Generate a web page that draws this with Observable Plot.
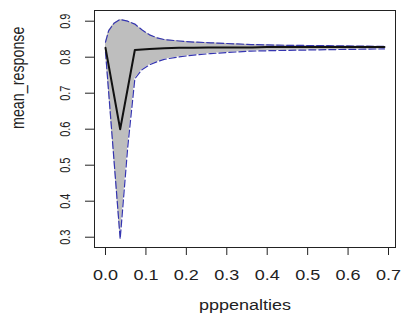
<!DOCTYPE html>
<html><head><meta charset="utf-8">
<script src="https://cdn.jsdelivr.net/npm/d3@7"></script>
<script src="https://cdn.jsdelivr.net/npm/@observablehq/plot@0.6"></script>
<style>body{margin:0;background:#fff} svg{display:block}</style>
</head><body><div id="chart"></div>
<script>
// mean response line (coarse grid)
const penalties = [0, 0.0363, 0.0726, 0.109, 0.145, 0.182, 0.218, 0.254, 0.291, 0.327, 0.363, 0.399, 0.436, 0.472, 0.508, 0.545, 0.581, 0.617, 0.654, 0.69];
const meanResponse = [0.826, 0.600, 0.820, 0.823, 0.825, 0.826, 0.826, 0.827, 0.827, 0.827, 0.827, 0.828, 0.828, 0.828, 0.828, 0.828, 0.828, 0.828, 0.828, 0.828];
// confidence band
const bandPenalties = [0, 0.008, 0.021, 0.0363, 0.055, 0.0726, 0.09, 0.109, 0.127, 0.145, 0.182, 0.218, 0.26, 0.30, 0.36, 0.45, 0.55, 0.69];
const bandLower = [0.815, 0.700, 0.514, 0.295, 0.550, 0.740, 0.765, 0.779, 0.787, 0.794, 0.801, 0.806, 0.810, 0.813, 0.817, 0.819, 0.821, 0.823];
const bandUpper = [0.842, 0.874, 0.894, 0.905, 0.900, 0.892, 0.876, 0.862, 0.854, 0.849, 0.845, 0.842, 0.840, 0.838, 0.835, 0.833, 0.832, 0.830];
const xTicks = [0, 0.1, 0.2, 0.3, 0.4, 0.5, 0.6, 0.7];
const yTicks = [0.3, 0.4, 0.5, 0.6, 0.7, 0.8, 0.9];
const xTitle = "pppenalties";
const yTitle = "mean_response";

const line = penalties.map((x, i) => ({x, y: meanResponse[i]}));
const band = bandPenalties.map((x, i) => ({x, lo: bandLower[i], hi: bandUpper[i]}));
const fmt = d3.format(".1f");

const chart = Plot.plot({
  width: 401, height: 323,
  marginLeft: 94, marginRight: 6, marginTop: 10, marginBottom: 76,
  style: {fontFamily: "'Liberation Sans', Arial, sans-serif", color: "#222", background: "#fff"},
  x: {domain: [-0.0272, 0.7173]},
  y: {domain: [0.2714, 0.9297]},
  marks: [
    Plot.areaY(band, {x: "x", y1: "lo", y2: "hi", fill: "#bebebe"}),
    Plot.lineY(band, {x: "x", y: "lo", stroke: "#3535b0", strokeWidth: 1.2, strokeDasharray: "7,3"}),
    Plot.lineY(band, {x: "x", y: "hi", stroke: "#3535b0", strokeWidth: 1.2, strokeDasharray: "7,3"}),
    Plot.line(line, {x: "x", y: "y", stroke: "#111", strokeWidth: 2}),
    Plot.frame({stroke: "#222"}),
    Plot.axisX({ticks: xTicks, tickFormat: fmt, tickSize: 8, tickPadding: 14, fontSize: 14.3, label: null}),
    Plot.axisY({ticks: yTicks, tickFormat: fmt, tickSize: 9, tickPadding: 20, tickRotate: -90, textAnchor: "middle", lineAnchor: "middle", fontSize: 11, label: null}),
    Plot.text([xTitle], {frameAnchor: "bottom", dy: 62, fontSize: 14.3, text: d => d}),
    Plot.text([yTitle], {frameAnchor: "left", dx: -76, rotate: -90, fontSize: 14.3, text: d => d})
  ]
});

const S = 1.26;
chart.querySelectorAll("text").forEach(t => {
  const tr = t.getAttribute("transform") || "";
  const m = tr.match(/^\s*translate\([^)]*\)/);
  if (m) t.setAttribute("transform", m[0] + ` scale(${S},1)` + tr.slice(m[0].length));
  else {
    const x = parseFloat(t.getAttribute("x")) || 0, y = parseFloat(t.getAttribute("y")) || 0;
    t.setAttribute("transform", `translate(${x},${y}) scale(${S},1) translate(${-x},${-y}) ` + tr);
  }
});
document.getElementById("chart").append(chart);
</script></body></html>
